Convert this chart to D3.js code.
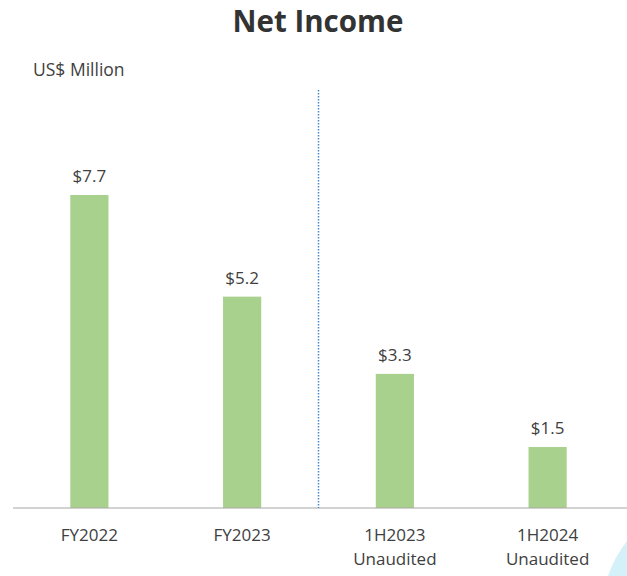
<!DOCTYPE html>
<html>
<head>
<meta charset="utf-8">
<script src="https://cdn.jsdelivr.net/npm/d3@7"></script>
<style>
  body { margin: 0; background: #fff; }
  svg { display: block; font-family: "Open Sans", "Noto Sans", sans-serif; }
</style>
</head>
<body>
<div id="chart"></div>
<script>
const categories = ['FY2022', 'FY2023', '1H2023', '1H2024'];
const subLabels = ['', '', 'Unaudited', 'Unaudited'];
const netIncome = [7.7, 5.2, 3.3, 1.5];

const width = 627, height = 576;
const baseY = 508;

const svg = d3.select('#chart').append('svg')
    .attr('width', width)
    .attr('height', height);

// corner decoration
svg.append('path')
    .attr('d', 'M608,576 Q614,558 627,541 L627,576 Z')
    .attr('fill', '#d4f0f9');

svg.append('text')
    .attr('x', 318)
    .attr('y', 32)
    .attr('text-anchor', 'middle')
    .attr('font-size', 29.5)
    .attr('font-weight', 'bold')
    .attr('fill', '#333')
    .text('Net Income');

svg.append('text')
    .attr('x', 33)
    .attr('y', 76)
    .attr('font-size', 17.5)
    .attr('fill', '#404040')
    .text('US$ Million');

const x = d3.scaleBand()
    .domain(categories)
    .range([13, 624])
    .paddingInner(0.75)
    .paddingOuter(0.375);

const y = d3.scaleLinear()
    .domain([0, 7.7])
    .range([baseY, 195]);

svg.append('g')
  .selectAll('rect')
  .data(netIncome)
  .join('rect')
    .attr('x', (d, i) => x(categories[i]))
    .attr('y', d => y(d))
    .attr('width', x.bandwidth())
    .attr('height', d => baseY - y(d))
    .attr('fill', '#a9d18e');

svg.append('g')
  .selectAll('text')
  .data(netIncome)
  .join('text')
    .attr('x', (d, i) => x(categories[i]) + x.bandwidth() / 2)
    .attr('y', d => y(d) - 13)
    .attr('text-anchor', 'middle')
    .attr('font-size', 17)
    .attr('fill', '#404040')
    .text(d => '$' + d.toFixed(1));

// baseline
svg.append('line')
    .attr('x1', 13).attr('x2', 627)
    .attr('y1', baseY).attr('y2', baseY)
    .attr('stroke', '#a6a6a6')
    .attr('stroke-width', 1);

// divider between full year and half year
svg.append('line')
    .attr('x1', 318.5).attr('x2', 318.5)
    .attr('y1', 90).attr('y2', baseY)
    .attr('stroke', '#4a86c5')
    .attr('stroke-width', 1.5)
    .attr('stroke-dasharray', '1.5,1.5');

const labels = svg.append('g')
  .selectAll('text')
  .data(categories)
  .join('text')
    .attr('x', d => x(d) + x.bandwidth() / 2)
    .attr('y', 541)
    .attr('text-anchor', 'middle')
    .attr('font-size', 17)
    .attr('fill', '#404040');

labels.append('tspan').text(d => d);
labels.append('tspan')
    .attr('x', d => x(d) + x.bandwidth() / 2)
    .attr('dy', 24)
    .text((d, i) => subLabels[i]);
</script>
</body>
</html>
